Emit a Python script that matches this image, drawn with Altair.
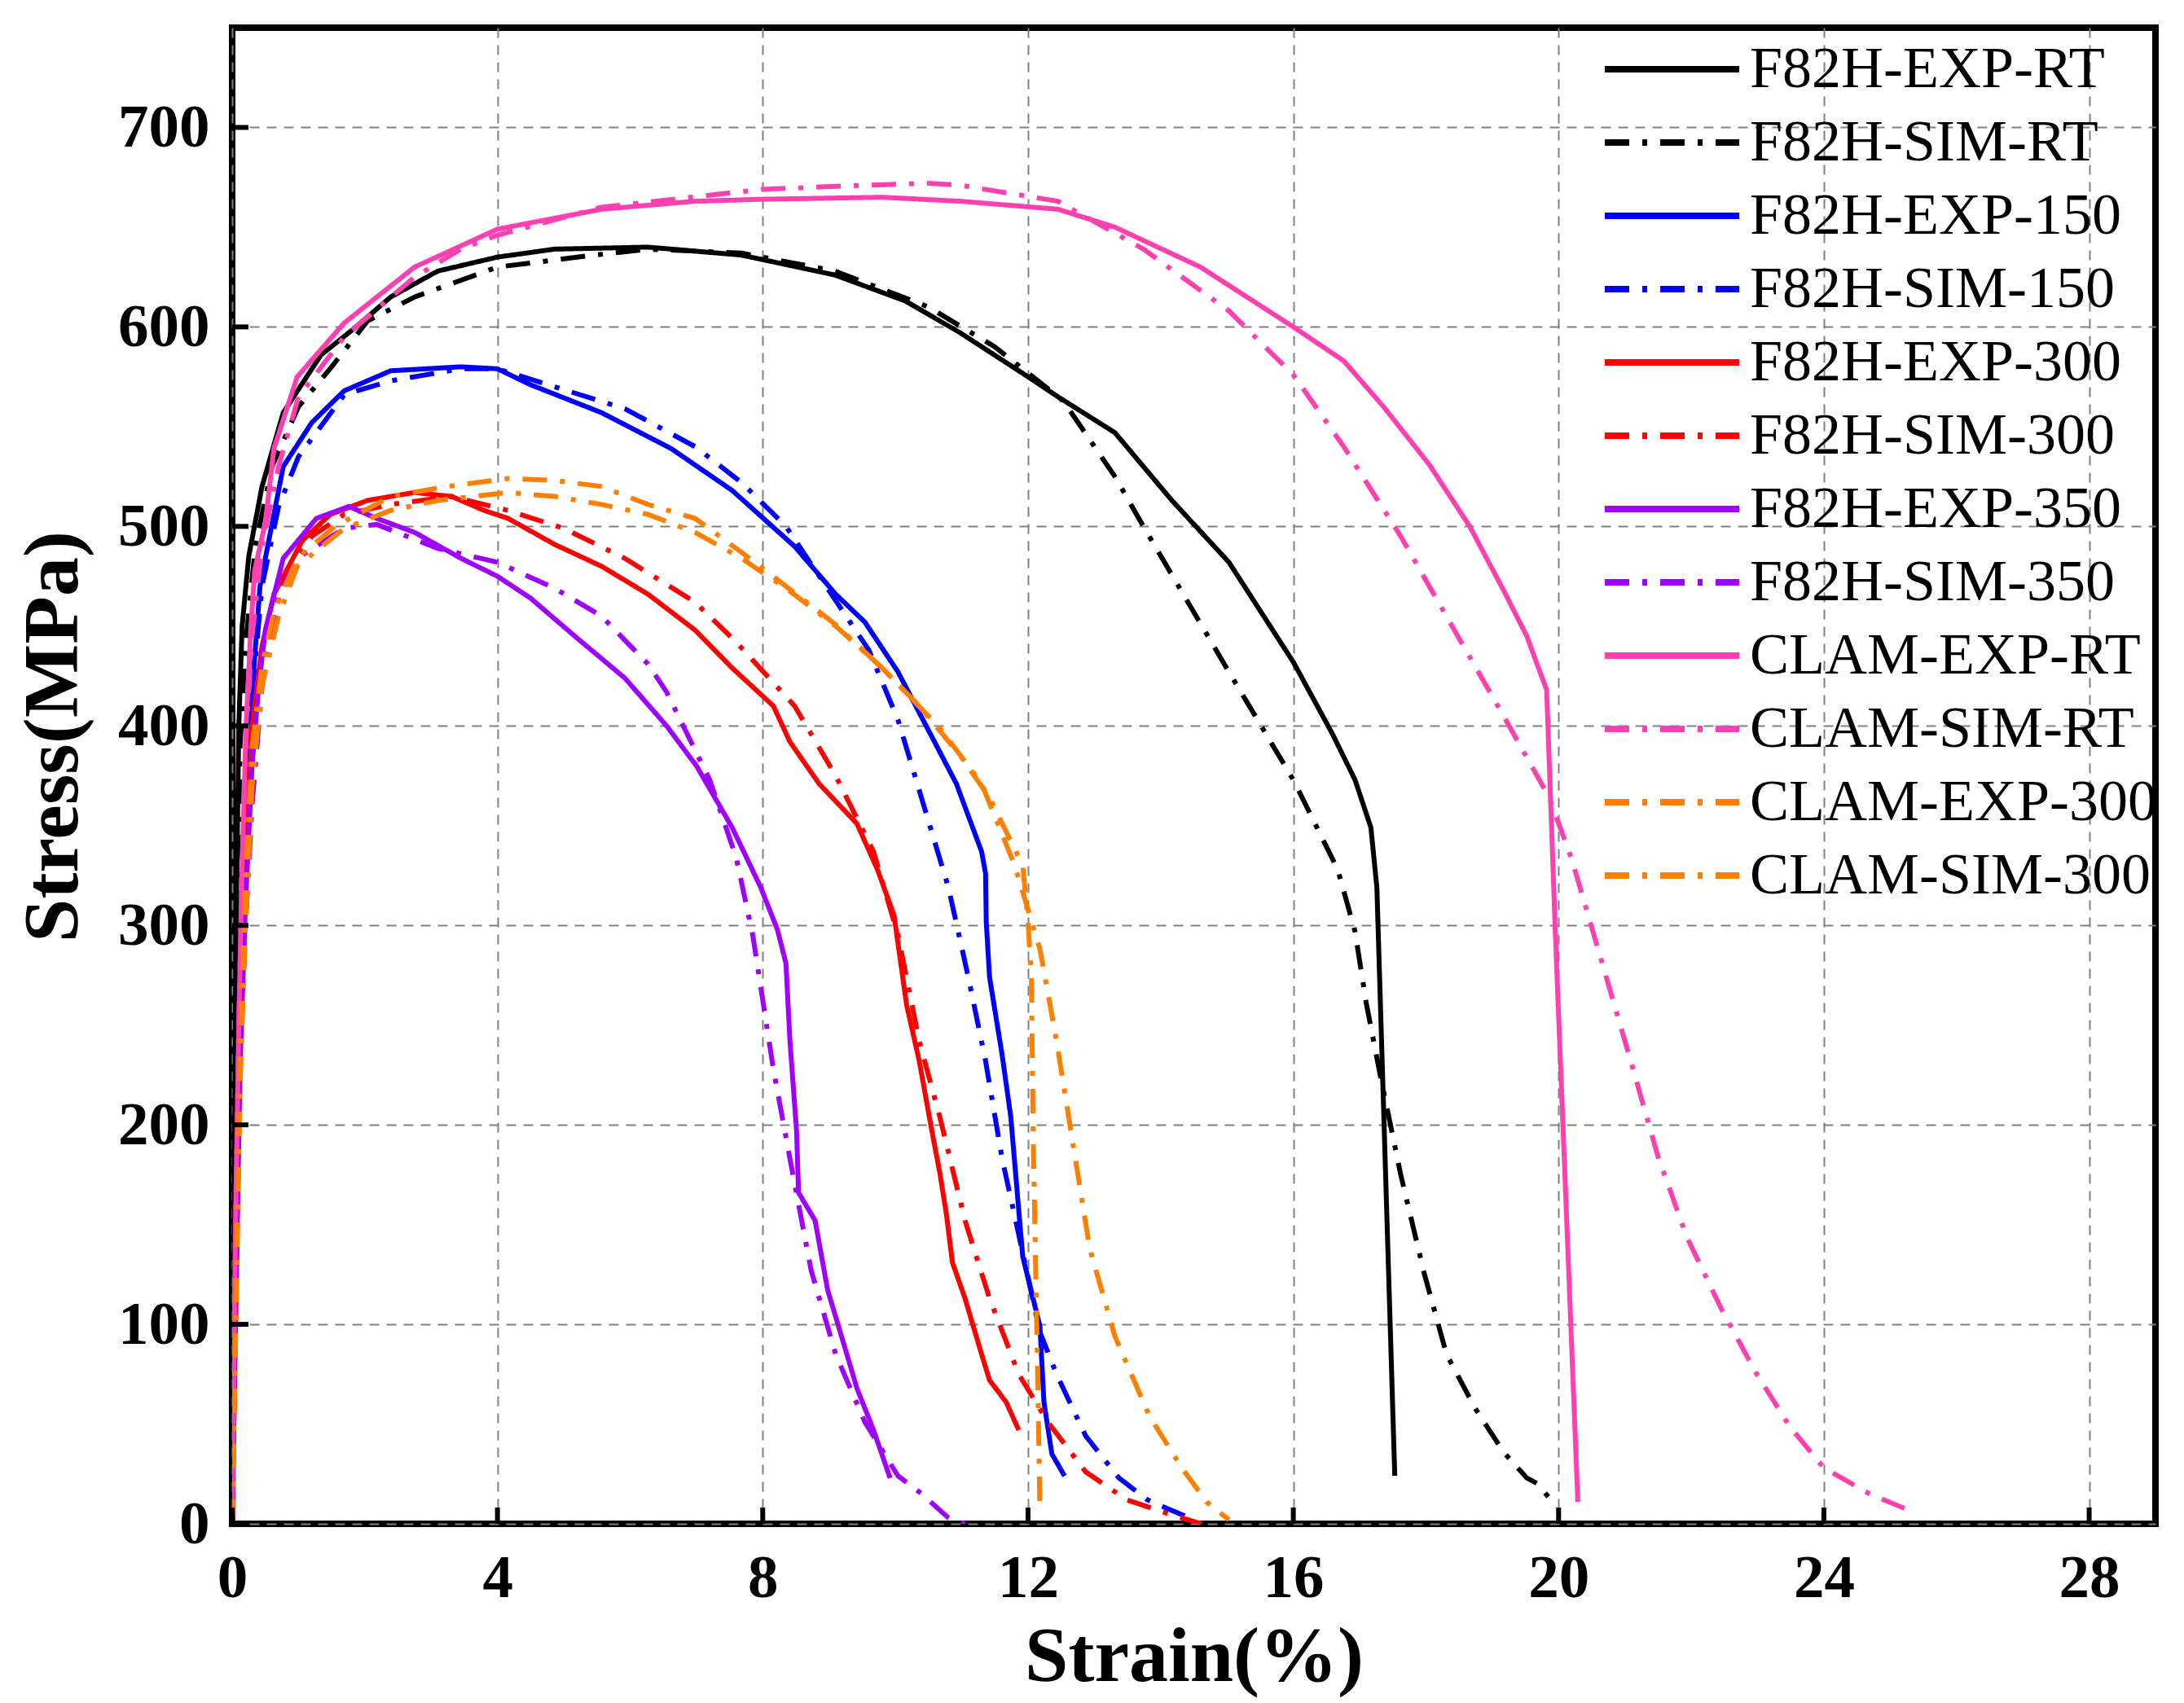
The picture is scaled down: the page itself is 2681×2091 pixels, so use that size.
import altair as alt
import pandas as pd

# strain (%) / stress (MPa)
f82h_exp_rt_strain = [0, 0.03, 0.06, 0.1, 0.15, 0.25, 0.45, 0.77, 1.34, 1.83, 2.39, 3.1, 4.0, 4.86, 6.27, 7.68, 9.09, 10.15, 10.98, 12.0, 12.45, 13.31, 14.17, 15.03, 16.0, 16.59, 16.93, 17.17, 17.26, 17.53]
f82h_exp_rt_stress = [0, 150, 300, 400, 450, 485, 520, 557, 586, 599, 615, 628, 635, 639, 640, 636, 626, 613, 597, 575, 565, 547, 513, 482, 432, 396, 373, 349, 319, 24]

f82h_sim_rt_strain = [0, 0.03, 0.07, 0.12, 0.2, 0.35, 0.6, 1.0, 1.5, 2.04, 2.75, 4.0, 5.2, 6.27, 7.68, 9.09, 10.5, 11.5, 12.53, 13.31, 13.74, 15.03, 16.0, 16.67, 16.93, 17.1, 17.31, 17.62, 17.97, 18.31, 18.74, 19.17, 19.52, 19.69, 19.95]
f82h_sim_rt_stress = [0, 150, 300, 390, 440, 490, 530, 560, 580, 603, 615, 630, 635, 639, 637, 628, 610, 590, 563, 525, 500, 427, 373, 328, 297, 261, 225, 175, 126, 85, 58, 36, 23, 20, 9]

f82h_exp_150_strain = [0, 0.05, 0.12, 0.2, 0.3, 0.42, 0.5, 0.77, 1.2, 1.69, 2.39, 3.45, 4.0, 4.5, 5.57, 6.62, 7.54, 8.48, 9.1, 9.54, 10.04, 10.48, 10.92, 11.3, 11.36, 11.37, 11.42, 11.61, 11.74, 11.83, 11.92, 12.18, 12.24, 12.36, 12.55]
f82h_exp_150_stress = [0, 120, 250, 350, 417, 470, 484, 530, 552, 568, 578, 580, 579, 571, 557, 539, 518, 490, 466, 452, 427, 399, 371, 337, 326, 302, 274, 235, 204, 169, 134, 99, 61, 35, 24]

f82h_sim_150_strain = [0, 0.05, 0.12, 0.2, 0.3, 0.45, 0.7, 1.0, 1.69, 2.39, 3.45, 4.0, 4.86, 5.92, 6.98, 7.68, 8.35, 9.6, 10.04, 10.42, 10.8, 11.1, 11.36, 11.61, 11.86, 12.18, 12.43, 12.87, 13.37, 13.8, 14.43]
f82h_sim_150_stress = [0, 120, 250, 350, 415, 470, 510, 535, 566, 573, 579, 579, 570, 559, 540, 522, 500, 438, 403, 361, 319, 274, 232, 183, 145, 96, 75, 44, 23, 12, 3]

f82h_exp_300_strain = [0, 0.05, 0.12, 0.2, 0.3, 0.45, 0.63, 1.06, 1.48, 2.04, 2.75, 3.31, 3.8, 4.16, 4.86, 5.57, 6.27, 6.98, 7.54, 8.16, 8.41, 8.85, 9.42, 9.73, 9.98, 10.17, 10.36, 10.55, 10.67, 10.77, 10.86, 11.05, 11.3, 11.42, 11.67, 11.86]
f82h_exp_300_stress = [0, 100, 250, 330, 400, 440, 466, 493, 506, 513, 517, 515, 508, 504, 491, 480, 466, 448, 429, 410, 392, 371, 351, 328, 305, 260, 232, 197, 176, 155, 131, 113, 85, 72, 61, 47]

f82h_sim_300_strain = [0, 0.05, 0.12, 0.2, 0.3, 0.5, 0.8, 1.2, 1.69, 2.39, 3.31, 4.16, 5.0, 5.92, 6.98, 7.6, 8.48, 9.1, 9.67, 10.04, 10.36, 10.67, 11.05, 11.42, 11.86, 12.3, 12.87, 13.49, 14.12, 14.62]
f82h_sim_300_stress = [0, 100, 240, 320, 390, 440, 475, 495, 506, 511, 515, 508, 499, 484, 462, 442, 410, 375, 337, 295, 242, 204, 152, 113, 75, 51, 26, 12, 5, 0]

f82h_exp_350_strain = [0, 0.05, 0.12, 0.2, 0.3, 0.4, 0.5, 0.77, 1.27, 1.76, 2.18, 2.75, 3.45, 4.0, 4.5, 5.2, 5.92, 6.55, 7.0, 7.54, 7.97, 8.22, 8.35, 8.41, 8.51, 8.54, 8.79, 8.98, 9.17, 9.42, 9.67, 9.92]
f82h_exp_350_stress = [0, 100, 230, 310, 380, 420, 448, 484, 504, 510, 504, 497, 484, 475, 464, 444, 424, 400, 380, 349, 319, 298, 281, 242, 197, 166, 152, 117, 96, 68, 47, 23]

f82h_sim_350_strain = [0, 0.05, 0.12, 0.2, 0.3, 0.45, 0.7, 0.98, 1.69, 2.18, 3.1, 4.0, 4.86, 5.57, 6.27, 6.55, 7.2, 7.6, 7.85, 8.16, 8.41, 8.73, 9.1, 9.54, 10.04, 10.36, 10.8, 11.05]
f82h_sim_350_stress = [0, 100, 230, 300, 360, 420, 465, 484, 499, 501, 489, 482, 469, 455, 431, 417, 373, 334, 295, 228, 183, 127, 85, 51, 24, 16, 3, 0]

clam_exp_rt_strain = [0, 0.05, 0.1, 0.15, 0.21, 0.28, 0.34, 0.5, 0.63, 0.98, 1.69, 2.75, 4.0, 5.57, 6.98, 8.0, 9.8, 10.98, 12.45, 13.31, 14.6, 16.0, 16.76, 17.36, 18.05, 18.66, 19.17, 19.52, 19.82, 19.95, 20.29]
clam_exp_rt_stress = [0, 150, 250, 330, 400, 448, 478, 502, 539, 575, 602, 630, 649, 659, 663, 664, 665, 663, 659, 650, 630, 600, 583, 560, 531, 500, 468, 445, 418, 297, 11]

clam_sim_rt_strain = [0, 0.05, 0.1, 0.15, 0.22, 0.3, 0.45, 0.7, 1.0, 1.69, 2.75, 3.45, 4.0, 5.57, 8.0, 9.5, 10.5, 10.98, 12.45, 13.74, 15.03, 16.0, 16.76, 17.62, 18.48, 19.17, 19.86, 20.2, 20.64, 21.07, 21.5, 21.93, 22.45, 22.97, 23.48, 24.0, 24.69, 25.34]
clam_sim_rt_stress = [0, 150, 250, 330, 400, 445, 490, 530, 565, 595, 625, 639, 646, 660, 669, 671, 672, 671, 663, 639, 608, 576, 540, 495, 445, 405, 364, 333, 283, 234, 184, 144, 108, 76, 49, 28, 15, 6]

clam_exp_300_strain = [0, 0.05, 0.12, 0.2, 0.3, 0.45, 0.63, 0.98, 1.55, 2.39, 3.24, 4.16, 4.86, 5.57, 6.27, 6.98, 7.68, 8.39, 9.09, 9.8, 10.36, 10.98, 11.42, 11.92, 12.0, 12.05, 12.08, 12.14, 12.18]
clam_exp_300_stress = [0, 100, 240, 320, 390, 430, 457, 484, 500, 515, 520, 524, 523, 520, 511, 504, 487, 469, 451, 429, 410, 385, 364, 330, 302, 274, 190, 85, 5]

clam_sim_300_strain = [0, 0.05, 0.12, 0.2, 0.3, 0.45, 0.7, 0.98, 1.69, 2.39, 3.1, 4.16, 4.86, 5.57, 6.27, 6.98, 7.68, 8.39, 9.1, 9.8, 10.67, 11.3, 11.8, 12.18, 12.43, 12.68, 12.93, 13.31, 13.83, 14.34, 14.69, 15.03]
clam_sim_300_stress = [0, 90, 220, 300, 370, 420, 455, 480, 499, 508, 513, 517, 515, 511, 506, 497, 484, 468, 450, 429, 399, 371, 330, 288, 242, 190, 138, 94, 54, 27, 11, 2]

series = [
    ("F82H-EXP-RT", f82h_exp_rt_strain, f82h_exp_rt_stress),
    ("F82H-SIM-RT", f82h_sim_rt_strain, f82h_sim_rt_stress),
    ("F82H-EXP-150", f82h_exp_150_strain, f82h_exp_150_stress),
    ("F82H-SIM-150", f82h_sim_150_strain, f82h_sim_150_stress),
    ("F82H-EXP-300", f82h_exp_300_strain, f82h_exp_300_stress),
    ("F82H-SIM-300", f82h_sim_300_strain, f82h_sim_300_stress),
    ("F82H-EXP-350", f82h_exp_350_strain, f82h_exp_350_stress),
    ("F82H-SIM-350", f82h_sim_350_strain, f82h_sim_350_stress),
    ("CLAM-EXP-RT", clam_exp_rt_strain, clam_exp_rt_stress),
    ("CLAM-SIM-RT", clam_sim_rt_strain, clam_sim_rt_stress),
    ("CLAM-EXP-300", clam_exp_300_strain, clam_exp_300_stress),
    ("CLAM-SIM-300", clam_sim_300_strain, clam_sim_300_stress),
]
names = [s[0] for s in series]
colors = ["#000000", "#000000", "#0000FF", "#0000FF", "#FF0000", "#FF0000",
          "#A000FF", "#A000FF", "#FF40B0", "#FF40B0", "#FF8000", "#FF8000"]
solid = [1, 0]
dashdot = [30, 16, 6, 16]
dashes = [solid, dashdot, solid, dashdot, solid, dashdot,
          solid, dashdot, solid, dashdot, dashdot, dashdot]

x_ticks = [0, 4, 8, 12, 16, 20, 24, 28]
y_ticks = [0, 100, 200, 300, 400, 500, 600, 700]

rows = []
for name, xs, ys in series:
    for i, (x, y) in enumerate(zip(xs, ys)):
        rows.append({"series": name, "strain": x, "stress": y, "idx": i})
df = pd.DataFrame(rows)

W, H = 2361, 1837
FONT = "Liberation Serif"

xscale = alt.Scale(domain=[0, 29], nice=False)
yscale = alt.Scale(domain=[0, 750], nice=False)
xaxis = alt.Axis(values=x_ticks, labelPadding=30, titlePadding=12, labelFlush=False)
yaxis = alt.Axis(values=y_ticks, labelPadding=28, titlePadding=30, labelFlush=False, titleY=870)
legend = alt.Legend(title=None, orient="none", legendX=1681, legendY=6)

lines = alt.Chart(df).mark_line(strokeWidth=6, clip=True).encode(
    x=alt.X("strain:Q", scale=xscale, title="Strain(%)", axis=xaxis),
    y=alt.Y("stress:Q", scale=yscale, title="Stress(MPa)", axis=yaxis),
    color=alt.Color("series:N", scale=alt.Scale(domain=names, range=colors), legend=legend),
    strokeDash=alt.StrokeDash("series:N", scale=alt.Scale(domain=names, range=dashes), legend=legend),
    order="idx:Q",
)

# inward ticks on the bottom and left frame
xt = alt.Chart(pd.DataFrame({"strain": x_ticks})).mark_rule(color="black", strokeWidth=6).encode(
    x=alt.X("strain:Q", scale=xscale, title="Strain(%)", axis=xaxis),
    y=alt.value(H),
    y2=alt.value(H - 20),
)
yt = alt.Chart(pd.DataFrame({"stress": y_ticks})).mark_rule(color="black", strokeWidth=6).encode(
    y=alt.Y("stress:Q", scale=yscale, title="Stress(MPa)", axis=yaxis),
    x=alt.value(0),
    x2=alt.value(20),
)

chart = alt.layer(lines, xt, yt).properties(
    width=W, height=H,
    padding={"left": 9, "top": 26, "right": 5, "bottom": 5},
).configure_view(
    stroke="black", strokeWidth=8
).configure_axis(
    labelFont=FONT, labelFontSize=75, labelFontWeight="bold", labelColor="black",
    titleFont=FONT, titleFontSize=96, titleFontWeight="bold", titleColor="black",
    domain=False, ticks=False, grid=True,
    gridColor="#808080", gridDash=[12, 9], gridWidth=2,
).configure_legend(
    labelFont=FONT, labelFontSize=72, labelColor="black", labelLimit=1000,
    symbolType="stroke", symbolSize=27225, symbolStrokeWidth=8,
    clipHeight=90, rowPadding=0, labelOffset=9, padding=0,
)

chart.save("out.html", embed_options={"renderer": "svg", "actions": False})
